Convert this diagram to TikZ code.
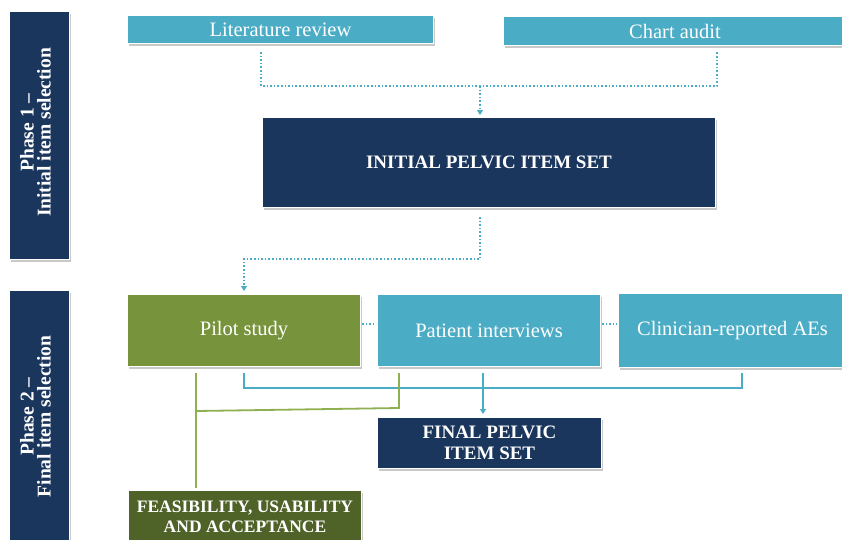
\documentclass[tikz,border=0pt]{standalone}
\usepackage{fontspec}
\setmainfont{Liberation Serif}
\usetikzlibrary{shadows,arrows.meta}

\definecolor{navy}{HTML}{1B365D}
\definecolor{teal}{HTML}{4BACC6}
\definecolor{olive}{HTML}{77933C}
\definecolor{darkolive}{HTML}{4F6228}
\definecolor{linegreen}{HTML}{8EB050}

\tikzset{
  box/.style={anchor=north west, inner sep=0pt, draw=white, line width=1pt,
    text=white, align=center,
    drop shadow={shadow xshift=1.5pt, shadow yshift=-2pt, opacity=0.3, fill=black!70}},
  tealbox/.style={box, fill=teal, font=\fontsize{20.5}{22}\selectfont},
  navybox/.style={box, fill=navy, font=\bfseries\fontsize{19}{21}\selectfont},
  phasebox/.style={box, fill=navy},
  phasetext/.style={rotate=90, text=white, align=center, font=\bfseries\fontsize{19.5}{17}\selectfont},
  dotline/.style={draw=teal, line width=1.6pt, dotted},
  tealline/.style={draw=teal, line width=1.5pt},
  greenline/.style={draw=linegreen, line width=1.8pt},
  tip/.style={-{Triangle[length=5pt,width=6pt]}}
}

\begin{document}
\begin{tikzpicture}[x=1pt,y=-1pt]
\useasboundingbox (0,0) rectangle (842,539);

% phase labels
\node[phasebox, minimum width=60pt, minimum height=248pt] (ph1) at (9,11) {};
\node[phasetext] (ph1t) at ([xshift=-4pt,yshift=3pt]ph1.center) {Phase 1 --\\Initial item selection};
\node[phasebox, minimum width=60pt, minimum height=252pt] (ph2) at (9,290) {};
\node[phasetext] (ph2t) at ([xshift=-4pt,yshift=0pt]ph2.center) {Phase 2 --\\Final item selection};

% phase 1 boxes
\node[tealbox, minimum width=306pt, minimum height=28pt] (lit) at (127,15) {Literature review};
\node[tealbox, minimum width=343pt, minimum height=29pt] (chart) at (503,16) {Chart audit};
\node[navybox, minimum width=453pt, minimum height=90pt] (init) at (262,117) {INITIAL PELVIC ITEM SET};

% phase 2 boxes
\node[tealbox, fill=olive, minimum width=233pt, minimum height=72pt] (pilot) at (127,294) {Pilot study};
\node[tealbox, minimum width=223pt, minimum height=72pt] (patient) at (377,294) {Patient interviews};
\node[tealbox, minimum width=228pt, minimum height=74pt] (clin) at (618,293) {Clinician-reported AEs};
\node[navybox, minimum width=224pt, minimum height=51pt] (final) at (377,417) {FINAL PELVIC\\ITEM SET};
\node[navybox, fill=darkolive, font=\bfseries\fontsize{17.5}{20}\selectfont, minimum width=233pt, minimum height=52pt] (feas) at (128,490) {FEASIBILITY, USABILITY\\AND ACCEPTANCE};

% routing points
\coordinate (a1) at (261,86);
\coordinate (a2) at (717,86);
\coordinate (a3) at (480,86);
\coordinate (b1) at (480,259);
\coordinate (b2) at (244,259);
\coordinate (m)  at (0,324);
\coordinate (c1) at (244,388);
\coordinate (c2) at (742,388);
\coordinate (c3) at (483,388);
\coordinate (d1) at (196,411);
\coordinate (d2) at (399,408);

% phase 1 connectors
\draw[dotline] ([yshift=-8pt]a1 |- lit.south) -- (a1) -- (a2) -- ([yshift=-6pt]a2 |- chart.south);
\draw[dotline, tip] (a3) -- ([yshift=2pt]a3 |- init.north);
\draw[dotline, tip] ([yshift=-9pt]b1 |- init.south) -- (b1) -- (b2) -- ([yshift=3pt]b2 |- pilot.north);

% side links between phase 2 boxes
\draw[dotline, line width=1.2pt] ([xshift=1pt]pilot.east |- m) -- ([xshift=-1pt]patient.west |- m);
\draw[dotline, line width=1.2pt] ([xshift=1pt]patient.east |- m) -- ([xshift=-1pt]clin.west |- m);

% phase 2 connectors
\draw[tealline] ([yshift=-6pt]c1 |- pilot.south) -- (c1) -- (c2) -- ([yshift=-5pt]c2 |- clin.south);
\draw[tealline, tip] ([yshift=-6pt]c3 |- patient.south) -- ([yshift=3pt]c3 |- final.north);
\draw[greenline] ([yshift=-6pt]d1 |- pilot.south) -- (d1) -- (d2) -- ([yshift=-6pt]d2 |- patient.south);
\draw[greenline] (d1) -- ([yshift=2pt]d1 |- feas.north);
\end{tikzpicture}
\end{document}
